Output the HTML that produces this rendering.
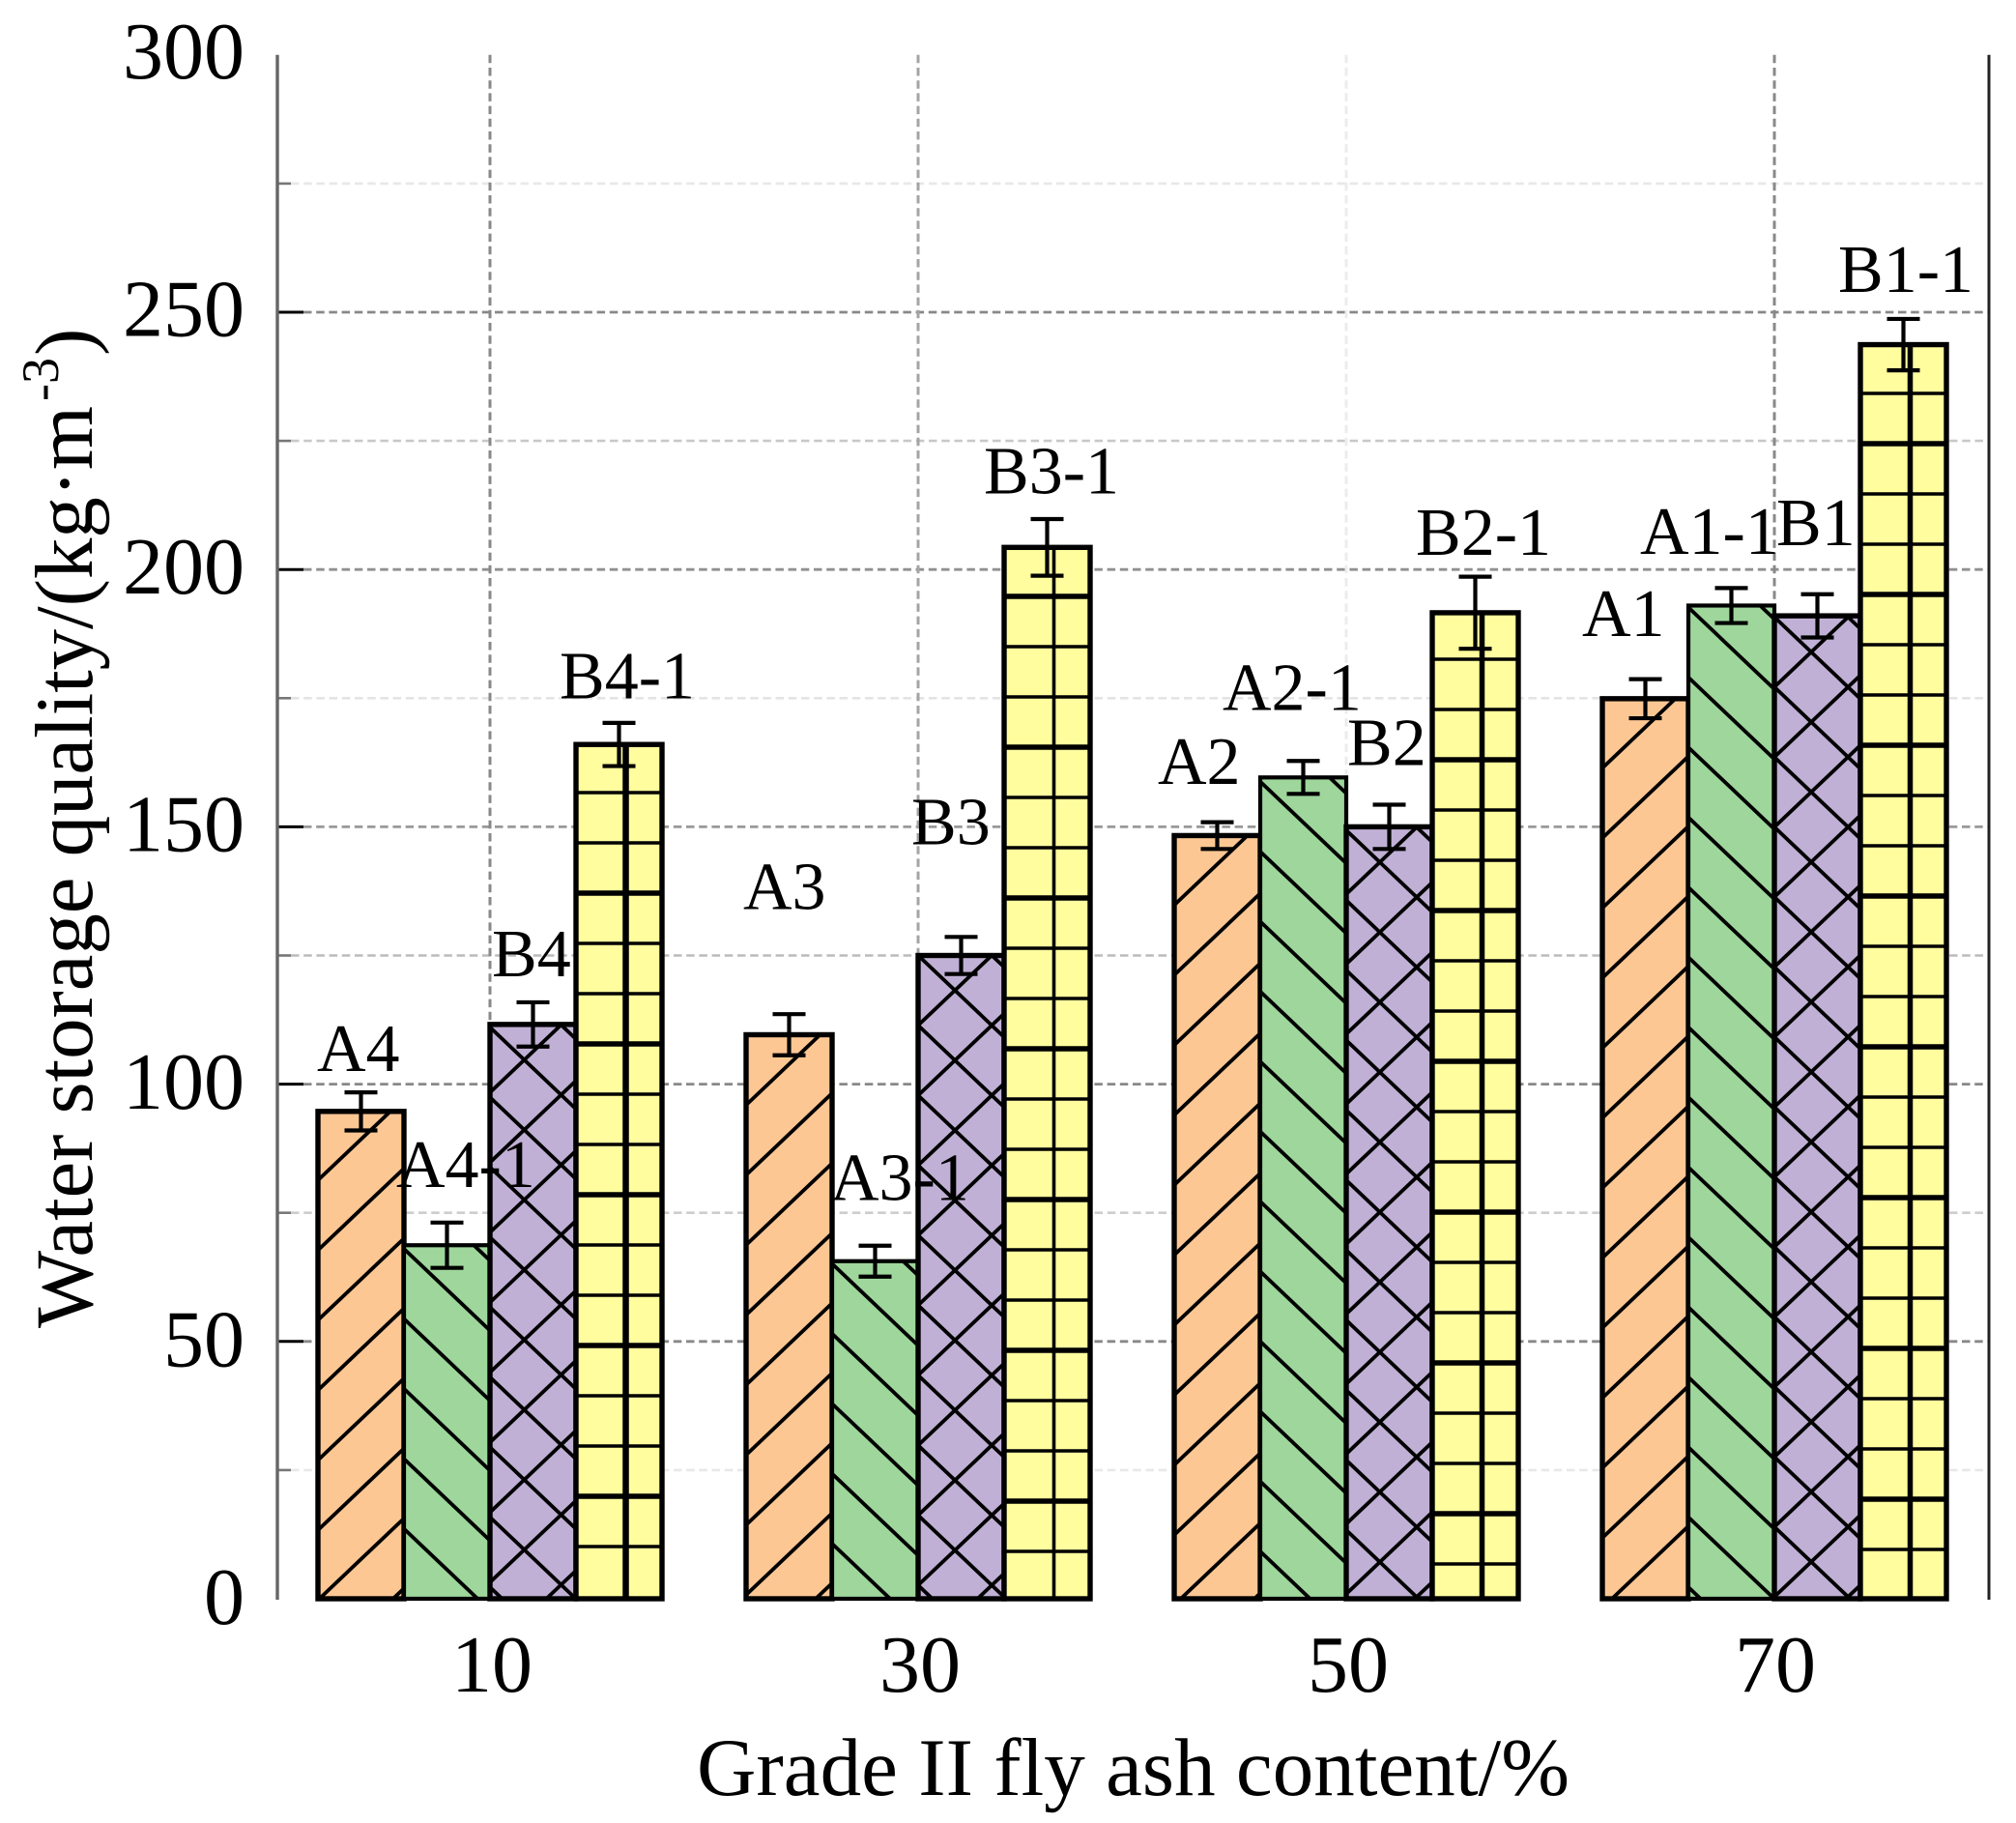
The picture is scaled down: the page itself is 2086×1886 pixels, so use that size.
<!DOCTYPE html>
<html lang="en">
<head>
<meta charset="utf-8">
<title>Water storage quality vs Grade II fly ash content</title>
<style>
html,body{margin:0;padding:0;background:#fff;}
svg{display:block;}
text{font-family:"Liberation Serif",serif;fill:#000;}
</style>
</head>
<body>
<svg id="chart" xmlns="http://www.w3.org/2000/svg" width="2086" height="1886" viewBox="0 0 2086 1886">
  <rect x="0" y="0" width="2086" height="1886" fill="#fff"/>
  <defs id="clips"></defs>
  <g id="grid"></g>
  <g id="axes"></g>
  <g id="bars"></g>
  <g id="errors"></g>
  <g id="labels"></g>
  <text x="721" y="1857" font-size="85" textLength="903">Grade II fly ash content/%</text>
  <text transform="translate(95,1374) rotate(-90)" font-size="85" textLength="954">Water storage quality/(kg·m</text>
  <text transform="translate(60,415) rotate(-90)" font-size="54">-3</text>
  <text transform="translate(95,368) rotate(-90)" font-size="85">)</text>
</svg>
<script>
const categories = ['10', '30', '50', '70'];
const yTickLabels = [0, 50, 100, 150, 200, 250, 300];
const yMinorTicks = [25, 75, 125, 175, 225, 275];

const valuesA  = [94.7, 109.6, 148.3, 174.9];
const valuesA1 = [68.7, 65.6, 159.6, 193.0];
const valuesB  = [111.6, 125.0, 150.0, 191.0];
const valuesB1 = [166.0, 204.3, 191.6, 243.7];

const errorsA  = [3.7, 4.0, 2.6, 3.8];
const errorsA1 = [4.4, 3.0, 3.2, 3.4];
const errorsB  = [4.3, 3.6, 4.3, 4.2];
const errorsB1 = [4.2, 5.5, 7.0, 5.0];

const namesA  = ['A4', 'A3', 'A2', 'A1'];
const namesA1 = ['A4-1', 'A3-1', 'A2-1', 'A1-1'];
const namesB  = ['B4', 'B3', 'B2', 'B1'];
const namesB1 = ['B4-1', 'B3-1', 'B2-1', 'B1-1'];

/* styling and layout constants */
const NS = 'http://www.w3.org/2000/svg';
const Y0 = 1654, PX_PER_UNIT = 5.324;
const X_AXIS = 287, X_RIGHT = 2058;
const FIRST_CENTER = 507, GROUP_STEP = 443, BAR_W = 89;
const HATCH_PERIOD = 72.4, HATCH_SLOPE = 0.95;
const GRID_PERIOD = 52;

function y(v) { return Y0 - v * PX_PER_UNIT; }
function groupCenter(g) { return FIRST_CENTER + g * GROUP_STEP; }

function make(parent, tag, attrs) {
  const el = document.createElementNS(NS, tag);
  for (const k in attrs) el.setAttribute(k, attrs[k]);
  parent.appendChild(el);
  return el;
}

const gridG = document.getElementById('grid');
const axesG = document.getElementById('axes');
const barsG = document.getElementById('bars');
const errG = document.getElementById('errors');
const labelG = document.getElementById('labels');
const clipDefs = document.getElementById('clips');

/* horizontal grid */
const majorGridColors = {50: '#888', 100: '#888', 150: '#999', 200: '#909090', 250: '#888', 300: 'none', 0: 'none'};
const minorGridColors = {25: '#e8e8e8', 75: '#cdcdcd', 125: '#bbb', 175: '#e4e4e4', 225: '#c8c8c8', 275: '#e8e8e8'};

yMinorTicks.forEach(function (v) {
  const line = make(gridG, 'line', {x1: X_AXIS + 14, x2: X_RIGHT, y1: y(v), y2: y(v), stroke: minorGridColors[v], 'stroke-width': 2.6, 'stroke-dasharray': '8.5 4.7'});
  
  
  const tick = make(axesG, 'line', {x1: X_AXIS, x2: X_AXIS + 14, y1: y(v), y2: y(v), stroke: '#777', 'stroke-width': 2.6});
  
  
});

yTickLabels.forEach(function (v) {
  if (majorGridColors[v] !== 'none') {
    const line = make(gridG, 'line', {x1: X_AXIS + 27, x2: X_RIGHT, y1: y(v), y2: y(v), stroke: majorGridColors[v], 'stroke-width': 2.8, 'stroke-dasharray': '8.5 4.7'});
    
    
    const tick = make(axesG, 'line', {x1: X_AXIS, x2: X_AXIS + 27, y1: y(v), y2: y(v), stroke: '#000', 'stroke-width': 3});
    
    
  }
  const label = make(axesG, 'text', {x: 253, y: y(v) + 24 + (300 - v) / 300 * 2, 'font-size': 84, 'text-anchor': 'end'});
  
  
  label.textContent = v;
});

/* vertical grid and x ticks */
const verticalGridColors = ['#888', '#a4a4a4', '#ececec', '#888'];
categories.forEach(function (c, g) {
  const line = make(gridG, 'line', {x1: groupCenter(g), x2: groupCenter(g), y1: y(300), y2: Y0, stroke: verticalGridColors[g], 'stroke-width': 3, 'stroke-dasharray': '8.5 4.7'});
  
  
  const label = make(axesG, 'text', {x: groupCenter(g) + (g === 3 ? 1 : 2), y: 1750, 'font-size': 84, 'text-anchor': 'middle'});
  
  
  label.textContent = c;
});

/* axis lines */
const axisLeft = make(axesG, 'line', {x1: X_AXIS, x2: X_AXIS, y1: y(300), y2: Y0 + 1, stroke: '#666', 'stroke-width': 3.4});


const axisRight = make(axesG, 'line', {x1: X_RIGHT, x2: X_RIGHT, y1: y(300), y2: Y0 + 1, stroke: '#222', 'stroke-width': 3});



/* hatch phases: upward distance from baseline where a line meets the bar's left edge */
const hatchPhaseA = [71, 4, 66, 63];
const hatchPhaseA1 = [0, 57, 49, 12];
const hatchPhaseBUp = [17, 14, 5, 2];
const hatchPhaseBDown = [12, 14, 71, 2];
const gridPhaseB1 = [54, 49, 36, 51];
const gridVerticalWidth = [6.5, 3.6, 5.5, 5.5];
const gridThickPattern = [3.6, 5.6, 3.6];

const labelDx = [[-1, -3, -17, -21], [-8, -2, -39, -50], [2, -7, 1, 2], [-17, -21, -17, -23]];
const labelDy = [[-42, -130, -53.5, -65], [-60, -63, -70, -53.5], [-50, -115, -64, -73], [-47.5, -56, -60, -54.6]];

const series = [
  {key: 'a', vals: valuesA, errs: errorsA, names: namesA, fill: '#FDC794'},
  {key: 'a1', vals: valuesA1, errs: errorsA1, names: namesA1, fill: '#9ED69B'},
  {key: 'b', vals: valuesB, errs: errorsB, names: namesB, fill: '#C0B0D5'},
  {key: 'b1', vals: valuesB1, errs: errorsB1, names: namesB1, fill: '#FFFD9E'}
];

function hatch(group, x, top, phase, dir) {
  /* dir = -1 rises to the right, +1 falls to the right */
  const rise = HATCH_SLOPE * BAR_W;
  for (let yy = Y0 - phase + HATCH_PERIOD * 2; yy > top - rise - HATCH_PERIOD; yy -= HATCH_PERIOD) {
    const l = make(group, 'line', {x1: x, y1: yy, x2: x + BAR_W, y2: yy + dir * rise, stroke: '#000', 'stroke-width': 3.8});
    
    
  }
}

series.forEach(function (s, si) {
  s.vals.forEach(function (v, g) {
    const x = groupCenter(g) + (si - 2) * BAR_W;
    const top = y(v);
    const h = Y0 - top;
    const clipId = 'clip-' + s.key + '-' + g;
    const clip = make(clipDefs, 'clipPath', {id: clipId});
    make(clip, 'rect', {x: x, y: top, width: BAR_W, height: h});

    const barGroup = make(barsG, 'g', {});
    
    

    const fillRect = make(barGroup, 'rect', {x: x, y: top, width: BAR_W, height: h, fill: s.fill});
    
    

    const hg = make(barGroup, 'g', {'clip-path': 'url(#' + clipId + ')'});
    
    

    if (si === 0) hatch(hg, x, top, hatchPhaseA[g], -1);
    if (si === 1) hatch(hg, x, top, hatchPhaseA1[g], 1);
    if (si === 2) {
      hatch(hg, x, top, hatchPhaseBUp[g], -1);
      hatch(hg, x, top, hatchPhaseBDown[g], 1);
    }
    if (si === 3) {
      let n = 0;
      for (let yy = Y0 - gridPhaseB1[g]; yy > top; yy -= GRID_PERIOD) {
        const l = make(hg, 'line', {x1: x, x2: x + BAR_W, y1: yy, y2: yy, stroke: '#000', 'stroke-width': gridThickPattern[n % 3]});
        
        
        n++;
      }
      const vl = make(hg, 'line', {x1: x + 51.5, x2: x + 51.5, y1: top, y2: Y0, stroke: '#000', 'stroke-width': gridVerticalWidth[g]});
      
      
    }

    const outline = make(barGroup, 'rect', {x: x, y: top, width: BAR_W, height: h, fill: 'none', stroke: '#000', 'stroke-width': si === 1 ? 4.2 : 5.4});
    
    

    /* error bar */
    const e = s.errs[g];
    const cx = x + BAR_W / 2;
    const eg = make(errG, 'g', {stroke: '#000', 'stroke-width': 4.2});
    
    
    make(eg, 'line', {x1: cx, x2: cx, y1: y(v + e), y2: y(v - e)});
    make(eg, 'line', {x1: cx - 17, x2: cx + 17, y1: y(v + e), y2: y(v + e)});
    make(eg, 'line', {x1: cx - 17, x2: cx + 17, y1: y(v - e), y2: y(v - e)});

    /* label */
    const t = make(labelG, 'text', {x: x + labelDx[si][g], y: top + labelDy[si][g], 'font-size': 70});
    
    
    t.textContent = s.names[g];
  });
});
</script>
</body>
</html>
